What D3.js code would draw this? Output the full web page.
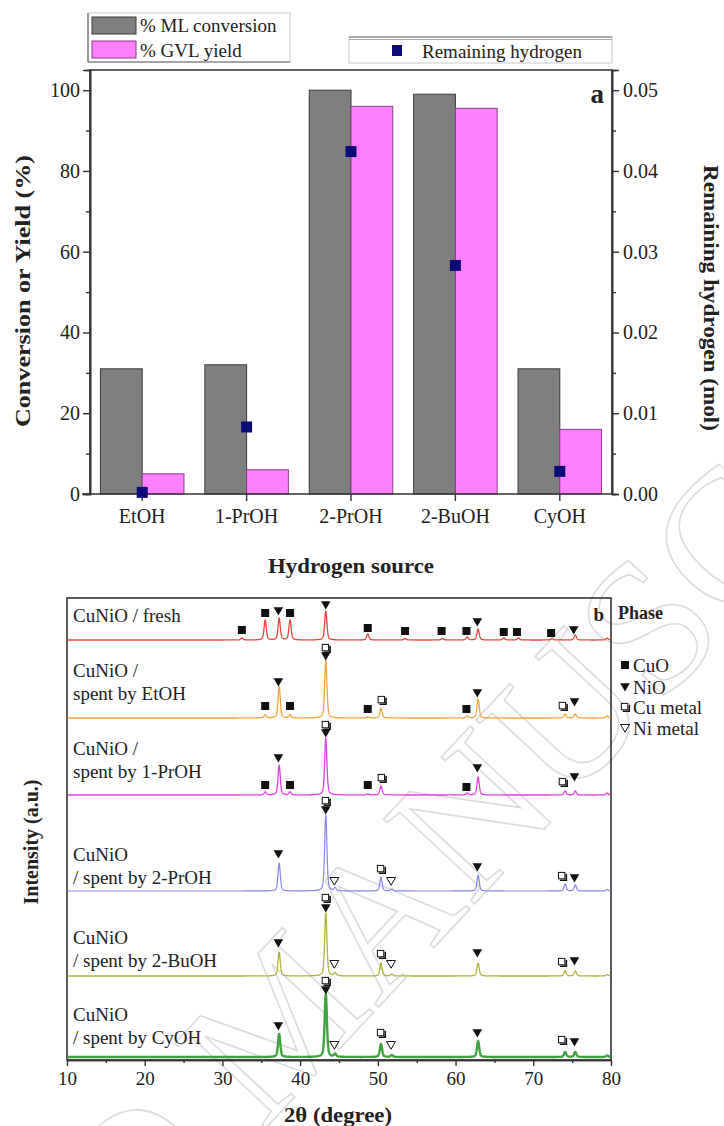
<!DOCTYPE html>
<html>
<head>
<meta charset="utf-8">
<script src="https://cdn.jsdelivr.net/npm/d3@7"></script>
<style>
  body { margin: 0; background: #fff; }
  svg { display: block; }
  text { font-family: "Liberation Serif", "Times New Roman", serif; fill: #222; }
</style>
</head>
<body>
<svg id="fig" width="724" height="1126"></svg>
<script>
// ---------- Panel a: catalytic results per hydrogen source ----------
const sources = ["EtOH", "1-PrOH", "2-PrOH", "2-BuOH", "CyOH"];
const mlConversion = [31, 32, 100, 99, 31];          // % ML conversion
const gvlYield = [5, 6, 96, 95.5, 16];                // % GVL yield
const remainingH2 = [0.0002, 0.0083, 0.0424, 0.0283, 0.0028]; // mol
const leftTicks = [0, 20, 40, 60, 80, 100];
const rightTicks = [0, 0.01, 0.02, 0.03, 0.04, 0.05];

// ---------- Panel b: XRD patterns ----------
const thetaTicks = [10, 20, 30, 40, 50, 60, 70, 80];
const sampleLabels = [
  ["CuNiO / fresh"],
  ["CuNiO /", "spent by EtOH"],
  ["CuNiO /", "spent by 1-PrOH"],
  ["CuNiO", "/ spent by 2-PrOH"],
  ["CuNiO", "/ spent by 2-BuOH"],
  ["CuNiO", "/ spent by CyOH"]
];
// vertical stacking offset of each pattern (a.u.)
const traceOffsets = [420, 342, 265, 169, 84, 3];
// reflections: [2θ, intensity a.u.]
const peaksFresh = [[32.5,2],[35.5,20],[37.3,22],[38.7,20],[43.3,29],[48.7,6],[53.5,1.5],[58.3,1.5],[61.5,3],[62.9,11],[66.2,2],[68.1,2],[72.4,1.5],[75.4,5],[79.5,2]];
const peaksEtOH  = [[35.5,3],[37.3,32],[38.7,3],[43.3,58],[48.7,1],[50.4,10],[61.5,2],[62.9,19],[74.1,4],[75.4,4],[79.5,2]];
const peaks1PrOH = [[35.5,3],[37.3,30],[38.7,3],[43.3,57],[48.7,1],[50.4,9],[61.5,2],[62.9,18],[74.1,4],[75.4,4],[79.5,2]];
const peaks2PrOH = [[37.3,28],[43.3,76],[44.5,3],[50.4,14],[51.8,2],[62.9,16],[74.1,7],[75.4,6],[79.5,1.5]];
const peaks2BuOH = [[37.3,24],[43.3,63],[44.5,3],[50.4,13],[51.8,2],[62.9,13],[74.1,5],[75.4,5],[79.5,1.5]];
const peaksCyOH  = [[37.3,23],[43.3,63],[44.5,3],[50.4,13],[51.8,2],[62.9,16],[74.1,5],[75.4,5],[79.5,1.5]];
// phase markers: [2θ, phase, height above pattern baseline (a.u.)]
const markFresh = [[32.5,"CuO",10],[35.5,"CuO",27],[37.2,"NiO",29],[38.7,"CuO",27],[43.3,"NiO",35],[48.7,"CuO",12],[53.5,"CuO",9],[58.2,"CuO",9],[61.4,"CuO",9],[62.8,"NiO",18],[66.2,"CuO",8],[67.9,"CuO",8],[72.3,"CuO",7],[75.2,"NiO",10]];
const markEtOH  = [[35.5,"CuO",12],[37.2,"NiO",36],[38.7,"CuO",12],[43.3,"NiO",62],[43.3,"Cu",70],[48.7,"CuO",9],[50.5,"Cu",18],[61.4,"CuO",9],[62.8,"NiO",25],[73.8,"Cu",12],[75.3,"NiO",16]];
const mark1PrOH = [[35.5,"CuO",10],[37.2,"NiO",37],[38.7,"CuO",10],[43.3,"NiO",62],[43.3,"Cu",70],[48.7,"CuO",10],[50.5,"Cu",17],[61.4,"CuO",8],[62.8,"NiO",27],[73.8,"Cu",13],[75.3,"NiO",18]];
const mark2PrOH = [[37.2,"NiO",37],[43.3,"NiO",81],[43.3,"Cu",90],[44.4,"Ni",10],[50.4,"Cu",22],[51.7,"Ni",10],[62.8,"NiO",24],[73.7,"Cu",15],[75.3,"NiO",13]];
const mark2BuOH = [[37.2,"NiO",33],[43.3,"NiO",68],[43.3,"Cu",78],[44.4,"Ni",12],[50.4,"Cu",22],[51.7,"Ni",12],[62.8,"NiO",23],[73.7,"Cu",14],[75.3,"NiO",15]];
const markCyOH  = [[37.2,"NiO",31],[43.3,"NiO",67],[43.3,"Cu",76],[44.4,"Ni",12],[50.4,"Cu",24],[51.7,"Ni",12],[62.8,"NiO",24],[73.7,"Cu",17],[75.3,"NiO",15]];
const phaseNames = [["CuO","CuO"],["NiO","NiO"],["Cu","Cu metal"],["Ni","Ni metal"]];

const samplePeaks = [peaksFresh, peaksEtOH, peaks1PrOH, peaks2PrOH, peaks2BuOH, peaksCyOH];
const sampleMarks = [markFresh, markEtOH, mark1PrOH, mark2PrOH, mark2BuOH, markCyOH];
const sampleColors = ["#e8453c", "#eea43e", "#de3fe0", "#8585ee", "#b2b23a", "#3fa43f"];
const sampleWidths = [1.3, 1.3, 1.3, 1.2, 1.3, 2.4];

const svg = d3.select("#fig");
const axisColor = "#333";
const serif = '"Liberation Serif", "Times New Roman", serif';

// ---------- watermark ----------
const wm = svg.append("g")
  .attr("transform", "translate(262,1132) rotate(-47)")
  .style("font-family", serif).style("font-size", "190px");
wm.append("text").attr("text-anchor", "end").text("ACCEPTED\u00a0")
  .style("fill", "none").style("stroke", "#dcdcdc").style("stroke-width", 1.6);
wm.append("text").attr("text-anchor", "start").text("MANUSCRIPT")
  .style("fill", "none").style("stroke", "#dcdcdc").style("stroke-width", 1.6);

// ================= Panel a =================
const aL = 90, aR = 612, aT = 70, aB = 494;
const x = d3.scaleBand().domain(sources).range([aL, aR]).paddingInner(0.2).paddingOuter(0.1);
const xSub = d3.scaleBand().domain(["conv", "yield"]).range([0, x.bandwidth()]);
const yL = d3.scaleLinear().domain([0, 105]).range([aB, aT]);
const yR = d3.scaleLinear().domain([0, 0.0525]).range([aB, aT]);

const pa = svg.append("g");
// frame (top line + side axes)
pa.append("path").attr("d", `M${aL},${aB}V${aT}H${aR}V${aB}`)
  .attr("fill", "none").attr("stroke", axisColor).attr("stroke-width", 1.6);

// bars
const groups = pa.selectAll("g.grp").data(sources).join("g")
  .attr("transform", d => `translate(${x(d)},0)`);
groups.append("rect")
  .attr("x", xSub("conv")).attr("width", xSub.bandwidth())
  .attr("y", (d, i) => yL(mlConversion[i])).attr("height", (d, i) => aB - yL(mlConversion[i]))
  .attr("fill", "#7f7f7f").attr("stroke", "#3a3a3a").attr("stroke-width", 1);
groups.append("rect")
  .attr("x", xSub("yield")).attr("width", xSub.bandwidth())
  .attr("y", (d, i) => yL(gvlYield[i])).attr("height", (d, i) => aB - yL(gvlYield[i]))
  .attr("fill", "#ff80ff").attr("stroke", "#8e3a8e").attr("stroke-width", 1);

// left axis
pa.append("g").attr("transform", `translate(${aL},0)`)
  .call(d3.axisLeft(yL).tickValues(leftTicks).tickFormat(d3.format("d")).tickSize(7).tickPadding(3));
pa.append("g").attr("transform", `translate(${aL},0)`)
  .call(d3.axisLeft(yL).tickValues([10, 30, 50, 70, 90]).tickFormat("").tickSize(4));
// right axis
pa.append("g").attr("transform", `translate(${aR},0)`)
  .call(d3.axisRight(yR).tickValues(rightTicks).tickFormat(d3.format(".2f")).tickSize(7).tickPadding(4));
pa.append("g").attr("transform", `translate(${aR},0)`)
  .call(d3.axisRight(yR).tickValues([0.005, 0.015, 0.025, 0.035, 0.045]).tickFormat("").tickSize(4));
// bottom axis
const gB = pa.append("g").attr("transform", `translate(0,${aB})`)
  .call(d3.axisBottom(x).tickSize(7).tickPadding(8).tickSizeOuter(0));
pa.selectAll(".domain").attr("stroke", axisColor).attr("stroke-width", 1.6);
pa.selectAll(".tick line").attr("stroke", axisColor).attr("stroke-width", 1.4);
pa.selectAll(".tick text").style("font-family", serif).style("font-size", "20px").attr("fill", "#222");
gB.select(".domain").attr("d", `M${aL - 8},0H${aR}`);

// remaining hydrogen squares
pa.selectAll("rect.h2").data(sources).join("rect").attr("class", "h2")
  .attr("x", (d) => x(d) + x.bandwidth() / 2 - 5.5)
  .attr("y", (d, i) => yR(remainingH2[i]) - 5.5)
  .attr("width", 11).attr("height", 11).attr("fill", "#0c0c78");

// titles
pa.append("text").attr("transform", `translate(23,291) rotate(-90)`)
  .attr("text-anchor", "middle").attr("dy", "0.35em")
  .attr("textLength", 272).attr("lengthAdjust", "spacingAndGlyphs")
  .style("font-size", "20px").style("font-weight", "bold").text("Conversion or Yield (%)");
pa.append("text").attr("transform", `translate(711,298) rotate(90)`)
  .attr("text-anchor", "middle").attr("dy", "0.35em")
  .attr("textLength", 266).attr("lengthAdjust", "spacingAndGlyphs")
  .style("font-size", "20px").style("font-weight", "bold").text("Remaining hydrogen (mol)");
pa.append("text").attr("x", 351).attr("y", 566).attr("dy", "0.35em")
  .attr("text-anchor", "middle").attr("textLength", 166).attr("lengthAdjust", "spacingAndGlyphs")
  .style("font-size", "20px").style("font-weight", "bold")
  .text("Hydrogen source");
pa.append("text").attr("x", 604).attr("y", 103).attr("text-anchor", "end")
  .style("font-size", "27px").style("font-weight", "bold").text("a");

// legends
const lg1 = pa.append("g");
lg1.append("rect").attr("x", 88).attr("y", 13).attr("width", 202).attr("height", 49)
  .attr("fill", "#fff").attr("stroke", "#c8c8c8").attr("stroke-width", 1);
lg1.append("line").attr("x1", 88).attr("x2", 290).attr("y1", 62).attr("y2", 62).attr("stroke", "#666").attr("stroke-width", 1.2);
lg1.append("line").attr("x1", 88).attr("x2", 88).attr("y1", 13).attr("y2", 62).attr("stroke", "#666").attr("stroke-width", 1.2);
lg1.append("rect").attr("x", 92).attr("y", 17).attr("width", 44).attr("height", 17)
  .attr("fill", "#7f7f7f").attr("stroke", "#3a3a3a");
lg1.append("rect").attr("x", 92).attr("y", 41).attr("width", 44).attr("height", 17)
  .attr("fill", "#ff80ff").attr("stroke", "#8e3a8e");
lg1.append("text").attr("x", 140).attr("y", 25).attr("dy", "0.35em").style("font-size", "19px").text("% ML conversion");
lg1.append("text").attr("x", 140).attr("y", 50).attr("dy", "0.35em").style("font-size", "19px").text("% GVL yield");

const lg2 = pa.append("g");
lg2.append("rect").attr("x", 349).attr("y", 37).attr("width", 263).attr("height", 26)
  .attr("fill", "#fff").attr("stroke", "#c8c8c8").attr("stroke-width", 1);
lg2.append("line").attr("x1", 349).attr("x2", 612).attr("y1", 37).attr("y2", 37).attr("stroke", "#777").attr("stroke-width", 1.2);
lg2.append("line").attr("x1", 349).attr("x2", 612).attr("y1", 39.5).attr("y2", 39.5).attr("stroke", "#aaa").attr("stroke-width", 1);
lg2.append("rect").attr("x", 392).attr("y", 45).attr("width", 10).attr("height", 11).attr("fill", "#0c0c78");
lg2.append("text").attr("x", 422).attr("y", 51).attr("dy", "0.35em").style("font-size", "19px").text("Remaining hydrogen");

// ================= Panel b =================
const bL = 67, bR = 611, bT = 598, bB = 1060;
const xt = d3.scaleLinear().domain([10, 80]).range([bL, bR]);
const yi = d3.scaleLinear().domain([0, 462]).range([bB, bT]);
const pb = svg.append("g");

pb.append("rect").attr("x", bL).attr("y", bT).attr("width", bR - bL).attr("height", bB - bT)
  .attr("fill", "none").attr("stroke", axisColor).attr("stroke-width", 1.6);

const hwhm = 0.17;
function intensity(peaks, t) {
  let s = 0;
  for (const [c, h] of peaks) {
    const d = (t - c) / hwhm;
    s += h * (0.45 / (1 + d * d) + 0.55 * Math.exp(-Math.LN2 * d * d));
  }
  return s;
}
const grid = d3.range(10.05, 79.96, 0.02);
const line = d3.line().x(d => xt(d[0])).y(d => yi(d[1]));

samplePeaks.forEach((pk, k) => {
  const pts = grid.map(t => [t, traceOffsets[k] + intensity(pk, t)]);
  pb.append("path").attr("d", line(pts)).attr("fill", "none")
    .attr("stroke", sampleColors[k]).attr("stroke-width", sampleWidths[k]).attr("stroke-linejoin", "round");
});

// phase symbol painter
function drawSymbol(g, phase, cx, cy) {
  if (phase === "CuO") {
    g.append("rect").attr("x", cx - 4).attr("y", cy - 4).attr("width", 8).attr("height", 8).attr("fill", "#111");
  } else if (phase === "NiO") {
    g.append("path").attr("d", `M${cx - 4.8},${cy - 3.8}H${cx + 4.8}L${cx},${cy + 4.4}Z`).attr("fill", "#111");
  } else if (phase === "Cu") {
    g.append("path").attr("d", `M${cx - 2.2},${cy + 4.3}H${cx + 4.3}V${cy - 2.2}`)
      .attr("fill", "none").attr("stroke", "#111").attr("stroke-width", 1.6);
    g.append("rect").attr("x", cx - 3.6).attr("y", cy - 3.6).attr("width", 6.4).attr("height", 6.4)
      .attr("fill", "#fff").attr("stroke", "#111").attr("stroke-width", 1);
  } else {
    g.append("path").attr("d", `M${cx - 4.5},${cy - 3.5}H${cx + 4.5}L${cx},${cy + 4.2}Z`)
      .attr("fill", "#fff").attr("stroke", "#111").attr("stroke-width", 1);
  }
}

sampleMarks.forEach((mk, k) => {
  const g = pb.append("g");
  mk.forEach(([t, ph, h]) => drawSymbol(g, ph, xt(t), yi(traceOffsets[k] + h)));
});

// sample labels
const labelTops = [615, 670, 748, 854, 937, 1014];
sampleLabels.forEach((lines, k) => {
  lines.forEach((s, j) => {
    pb.append("text").attr("x", 73).attr("y", labelTops[k] + j * 23).attr("dy", "0.35em")
      .style("font-size", "19px").attr("fill", "#333").text(s);
  });
});

// bottom axis
pb.append("g").attr("transform", `translate(0,${bB})`)
  .call(d3.axisBottom(xt).tickValues(thetaTicks).tickFormat(d3.format("d")).tickSize(6).tickPadding(6).tickSizeOuter(0));
pb.append("g").attr("transform", `translate(0,${bB})`)
  .call(d3.axisBottom(xt).tickValues([15, 25, 35, 45, 55, 65, 75]).tickFormat("").tickSize(3).tickSizeOuter(0));
pb.selectAll(".domain").attr("stroke", axisColor).attr("stroke-width", 1.6);
pb.selectAll(".tick line").attr("stroke", axisColor).attr("stroke-width", 1.4);
pb.selectAll(".tick text").style("font-family", serif).style("font-size", "19px").attr("fill", "#222");

pb.append("text").attr("x", 338).attr("y", 1115).attr("dy", "0.35em").attr("text-anchor", "middle")
  .attr("textLength", 108).attr("lengthAdjust", "spacingAndGlyphs")
  .style("font-size", "20px").style("font-weight", "bold").text("2\u03b8  (degree)");
pb.append("text").attr("transform", `translate(31,842) rotate(-90)`)
  .attr("text-anchor", "middle").attr("dy", "0.35em")
  .style("font-size", "20px").style("font-weight", "bold").text("Intensity (a.u.)");
pb.append("text").attr("x", 604).attr("y", 621).attr("text-anchor", "end")
  .style("font-size", "19px").style("font-weight", "bold").text("b");

// phase legend
pb.append("text").attr("x", 618).attr("y", 613).attr("dy", "0.35em")
  .style("font-size", "18px").style("font-weight", "bold").text("Phase");
const legY = [665, 687, 707, 728];
phaseNames.forEach(([ph, name], i) => {
  drawSymbol(pb, ph, 625, legY[i]);
  pb.append("text").attr("x", 633).attr("y", legY[i]).attr("dy", "0.35em")
    .style("font-size", "19px").attr("fill", "#222").text(name);
});
</script>
</body>
</html>
